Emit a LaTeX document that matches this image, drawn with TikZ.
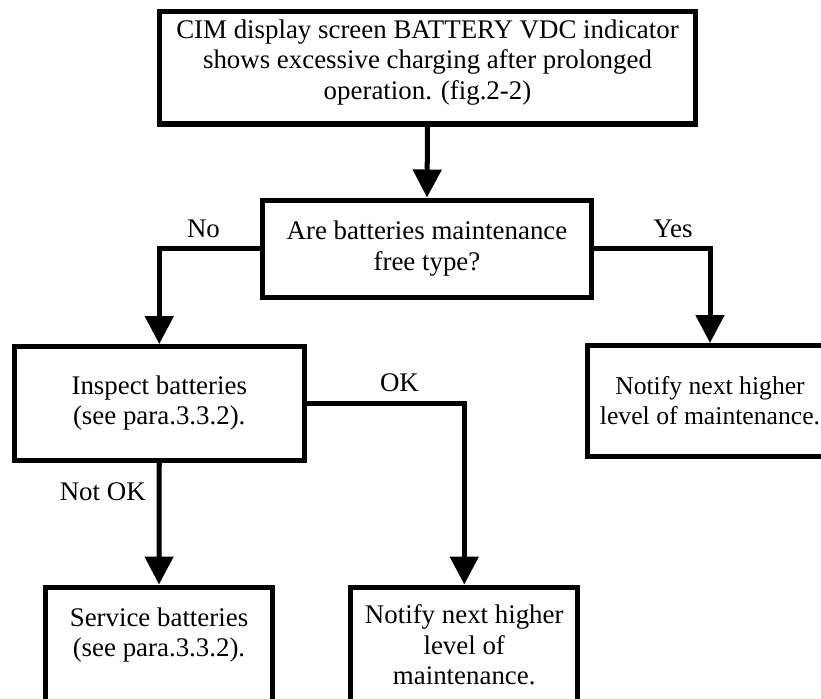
\documentclass[tikz,border=0pt]{standalone}
\usepackage{fontspec}
\setmainfont{Liberation Serif}
\usetikzlibrary{arrows.meta, calc, positioning}

\tikzset{
  box/.style={draw, line width=2.85pt, rectangle, align=center, inner sep=2pt},
  flow/.style={line width=2.85pt, -{Triangle[length=0.56cm, width=0.56cm]}},
  lbl/.style={inner sep=0pt}
}

\begin{document}
\begin{tikzpicture}[x=0.02cm, y=-0.02cm, font=\fontsize{15.3pt}{17.3pt}\selectfont]

% Fix the page size and cut off what runs over the edge
\useasboundingbox (0,0) rectangle (821,698);
\clip (0,0) rectangle (821,698);

% Place the boxes at their centres
\node[box, minimum width=10.74cm, minimum height=2.26cm, text depth=0.32cm] (fault) at (427.5,67.5)
  {CIM display screen BATTERY VDC indicator\\shows excessive charging after prolonged\\operation. (fig.2-2)};
\node[box, minimum width=6.59cm, minimum height=1.94cm] (question) at (427,248.5)
  {Are batteries maintenance\\free type?};
\node[box, minimum width=5.81cm, minimum height=2.27cm] (inspect) at (159.25,403.25)
  {Inspect batteries\\(see para.3.3.2).};
\node[box, minimum width=4.92cm, minimum height=2.21cm, font=\fontsize{14.6pt}{17.3pt}\selectfont] (notifyyes) at (710,400.75)
  {Notify next higher\\level of maintenance.};
\node[box, minimum width=4.56cm, minimum height=2.32cm, text depth=0.52cm] (service) at (159,645)
  {Service batteries\\(see para.3.3.2).};
\node[box, minimum width=4.55cm, minimum height=2.32cm] (notifyok) at (464.25,645)
  {Notify next higher\\level of\\maintenance.};

% Draw the connectors with their labels
\draw[flow] (fault.south) -- (question.north);
\draw[flow] (question.west) -| (inspect.north)
  node[lbl, pos=0.28, above=0.17cm] {No};
\draw[flow] (question.east) -| (notifyyes.north)
  node[lbl, pos=0.34, above=0.17cm] {Yes};
\draw[flow] (inspect.east) -| (notifyok.north)
  node[lbl, pos=0.294, above=0.18cm] {OK};
\draw[flow] (inspect.south) -- (service.north)
  node[lbl, pos=0.236, left=0.22cm] {Not OK};

\end{tikzpicture}
\end{document}
